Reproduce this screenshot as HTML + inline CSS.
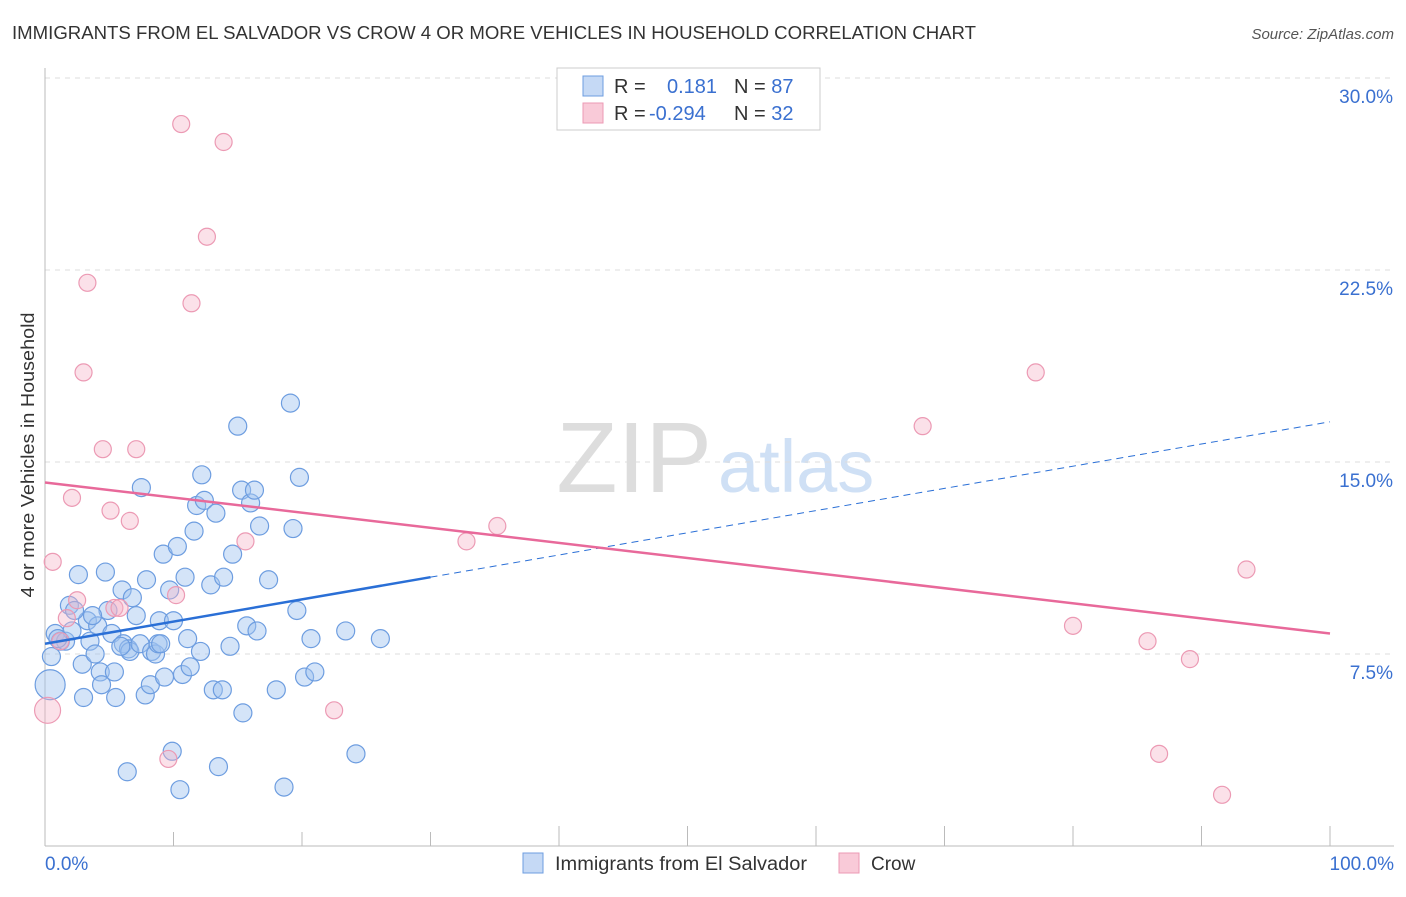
<!DOCTYPE html>
<html><head><meta charset="utf-8"><style>
body{margin:0;background:#fff;font-family:"Liberation Sans",sans-serif}
svg text{font-family:"Liberation Sans",sans-serif}
</style></head><body>
<svg width="1406" height="892" viewBox="0 0 1406 892">
<text x="12" y="39" font-size="18" fill="#333" textLength="964" lengthAdjust="spacingAndGlyphs">IMMIGRANTS FROM EL SALVADOR VS CROW 4 OR MORE VEHICLES IN HOUSEHOLD CORRELATION CHART</text>
<text x="1394" y="39" font-size="15" fill="#555" font-style="italic" text-anchor="end">Source: ZipAtlas.com</text>
<text x="712" y="492" font-size="100" fill="#ddd" text-anchor="end" font-family="Liberation Serif">ZIP</text>
<text x="718" y="492" font-size="74" fill="#cfe0f5">atlas</text>
<g id="grid"></g><g id="axes"></g><g id="pts"></g><g id="lines"></g>
<text transform="translate(34,455) rotate(-90)" font-size="18" fill="#333" text-anchor="middle" textLength="285" lengthAdjust="spacingAndGlyphs">4 or more Vehicles in Household</text>
<text x="45" y="870" font-size="19" fill="#3a70d0">0.0%</text>
<text x="1394" y="870" font-size="19" fill="#3a70d0" text-anchor="end">100.0%</text>
<g>
<rect x="557" y="68" width="263" height="62" fill="#fff" stroke="#ccc"/>
<rect x="583" y="76" width="20" height="20" fill="#c5d9f5" stroke="#6d9de0"/>
<rect x="583" y="103" width="20" height="20" fill="#f9cad8" stroke="#ec9ab4"/>
<text x="614" y="93" font-size="20" fill="#333">R = <tspan fill="#3a70d0" x="667">0.181</tspan><tspan x="734">N = </tspan><tspan fill="#3a70d0">87</tspan></text>
<text x="614" y="120" font-size="20" fill="#333">R = <tspan fill="#3a70d0" x="649">-0.294</tspan><tspan x="734">N = </tspan><tspan fill="#3a70d0">32</tspan></text>
</g>
<g>
<rect x="523" y="853" width="20" height="20" fill="#c5d9f5" stroke="#6d9de0"/>
<text x="555" y="870" font-size="19" fill="#333" textLength="252" lengthAdjust="spacingAndGlyphs">Immigrants from El Salvador</text>
<rect x="839" y="853" width="20" height="20" fill="#f9cad8" stroke="#ec9ab4"/>
<text x="871" y="870" font-size="19" fill="#333">Crow</text>
</g>
</svg>
<script>
const yTicks=[7.5,15,22.5,30];
const yTickLabels=["7.5%","15.0%","22.5%","30.0%"];
const blueX=[0.4,0.5,0.8,1.2,1.6,1.9,2.1,2.6,2.9,3.0,3.3,3.5,3.9,4.1,4.3,4.4,4.7,4.9,5.2,5.4,5.5,6.0,6.1,6.4,6.5,6.6,6.8,7.1,7.4,7.5,7.8,7.9,8.2,8.3,8.6,8.8,8.9,9.2,9.3,9.7,9.9,10.0,10.3,10.5,10.7,10.9,11.1,11.3,11.6,11.8,12.1,12.2,12.4,12.9,13.1,13.3,13.5,13.8,13.9,14.4,14.6,15.0,15.3,15.4,15.7,16.0,16.3,16.5,16.7,17.4,18.0,18.6,19.1,19.3,19.6,19.8,20.2,20.7,21.0,23.4,24.2,26.1,1.0,2.3,3.7,9.0,5.9];
const blueY=[6.3,7.4,8.3,8.0,8.0,9.4,8.4,10.6,7.1,5.8,8.8,8.0,7.5,8.6,6.8,6.3,10.7,9.2,8.3,6.8,5.8,10.0,7.9,2.9,7.7,7.6,9.7,9.0,7.9,14.0,5.9,10.4,6.3,7.6,7.5,7.9,8.8,11.4,6.6,10.0,3.7,8.8,11.7,2.2,6.7,10.5,8.1,7.0,12.3,13.3,7.6,14.5,13.5,10.2,6.1,13.0,3.1,6.1,10.5,7.8,11.4,16.4,13.9,5.2,8.6,13.4,13.9,8.4,12.5,10.4,6.1,2.3,17.3,12.4,9.2,14.4,6.6,8.1,6.8,8.4,3.6,8.1,8.1,9.2,9.0,7.9,7.8];
const pinkX=[0.2,0.6,1.7,2.1,2.5,3.0,3.3,4.5,5.1,5.4,5.8,6.6,7.1,9.6,10.2,10.6,11.4,12.6,13.9,15.6,22.5,32.8,35.2,68.3,77.1,80.0,85.8,86.7,89.1,91.6,93.5,1.2];
const pinkY=[5.3,11.1,8.9,13.6,9.6,18.5,22.0,15.5,13.1,9.3,9.3,12.7,15.5,3.4,9.8,28.2,21.2,23.8,27.5,11.9,5.3,11.9,12.5,16.4,18.5,8.6,8.0,3.6,7.3,2.0,10.8,8.0];
const blueTrend=[7.9,0.0867];
const pinkTrend=[14.2,-0.059];
const X=v=>45+v*12.85, Y=v=>846-v*25.6;
const NS="http://www.w3.org/2000/svg";
function mk(t,a,p){const e=document.createElementNS(NS,t);for(const k in a)e.setAttribute(k,a[k]);p.appendChild(e);return e;}
const grid=document.getElementById('grid'),axes=document.getElementById('axes'),pts=document.getElementById('pts'),lines=document.getElementById('lines');
yTicks.forEach((t,i)=>{
 const g=mk('line',{x1:45,x2:1394,y1:Y(t),y2:Y(t),stroke:'#ddd','stroke-dasharray':'5,5'},grid);
 
 
 const l=mk('text',{x:1393,y:Y(t)+25,'font-size':19,fill:'#3a70d0','text-anchor':'end'},grid);
 l.textContent=yTickLabels[i];
 
 
});
const ax=mk('line',{x1:45,x2:1394,y1:846,y2:846,stroke:'#bbb'},axes);


const ay=mk('line',{x1:45,x2:45,y1:68,y2:846,stroke:'#bbb'},axes);


for(let i=0;i<=10;i++){const t=mk('line',{x1:X(i*10),x2:X(i*10),y1:846,y2:i>=4?826:832,stroke:'#bbb'},axes);
 
 }
blueX.forEach((v,i)=>{const c=mk('circle',{cx:X(v),cy:Y(blueY[i]),r:i==0?15:9,fill:'rgba(160,196,240,0.45)',stroke:'#6d9de0','stroke-width':1.2},pts);
 
 });
pinkX.forEach((v,i)=>{const c=mk('circle',{cx:X(v),cy:Y(pinkY[i]),r:i==0?13:8.5,fill:'rgba(245,180,200,0.4)',stroke:'#ec9ab4','stroke-width':1.2},pts);
 
 });
const bt=v=>blueTrend[0]+blueTrend[1]*v, pt=v=>pinkTrend[0]+pinkTrend[1]*v;
const b1=mk('line',{x1:X(0),y1:Y(bt(0)),x2:X(30),y2:Y(bt(30)),stroke:'#2a6fd6','stroke-width':2.5},lines);


const b2=mk('line',{x1:X(30),y1:Y(bt(30)),x2:X(100),y2:Y(bt(100)),stroke:'#2a6fd6','stroke-width':1,'stroke-dasharray':'7,5'},lines);


const p1=mk('line',{x1:X(0),y1:Y(pt(0)),x2:X(100),y2:Y(pt(100)),stroke:'#e8699a','stroke-width':2.5},lines);


</script>
</body></html>
